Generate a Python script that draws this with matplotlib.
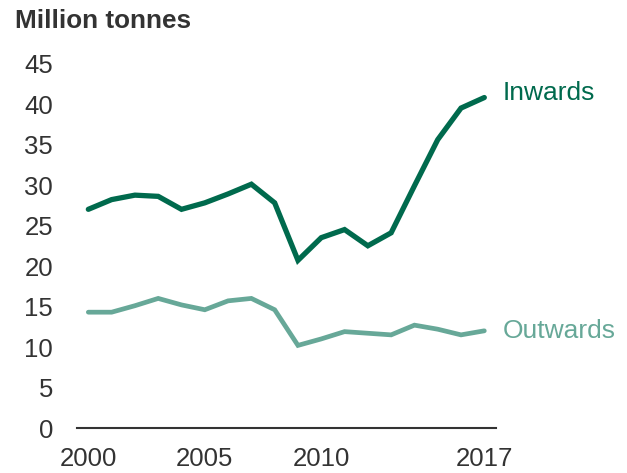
import matplotlib
matplotlib.use('Agg')
import matplotlib.pyplot as plt

years = list(range(2000, 2018))
inwards = [27.0, 28.2, 28.75, 28.6, 27.0, 27.8, 28.9, 30.1, 27.8, 20.7,
           23.5, 24.5, 22.5, 24.1, 29.9, 35.6, 39.5, 40.8]
outwards = [14.3, 14.3, 15.1, 16.0, 15.2, 14.6, 15.7, 16.0, 14.6, 10.2,
            11.0, 11.9, 11.7, 11.5, 12.7, 12.2, 11.5, 12.0]
xticks = [2000, 2005, 2010, 2017]
yticks = list(range(0, 50, 5))

plt.rcParams['font.family'] = ['Liberation Sans', 'DejaVu Sans']

dark = '#006a4d'
light = '#67a898'
grey = '#333333'

fig = plt.figure(figsize=(6.27, 4.73), dpi=100)
ax = fig.add_axes([0.1223, 0.0951, 0.6687, 0.7706])

ax.plot(years, inwards, color=dark, lw=3.8, solid_capstyle='round', solid_joinstyle='miter')
ax.plot(years, outwards, color=light, lw=3.4, solid_capstyle='round', solid_joinstyle='miter')

# end labels
ax.annotate('Inwards', (years[-1], inwards[-1]), xytext=(13.5, 3), textcoords='offset points',
            color=dark, fontsize=19, va='center', ha='left', annotation_clip=False)
ax.annotate('Outwards', (years[-1], outwards[-1]), xytext=(13.5, 0), textcoords='offset points',
            color=light, fontsize=19, va='center', ha='left', annotation_clip=False)

ax.set_xlim(1999.5, 2017.5)
ax.set_ylim(0, 45)
ax.set_xticks(xticks)
ax.set_yticks(yticks)
ax.tick_params(axis='both', length=0, labelsize=18.5, labelcolor=grey)
ax.tick_params(axis='y', pad=17)
ax.tick_params(axis='x', pad=14)

for s in ['top', 'right', 'left']:
    ax.spines[s].set_visible(False)
ax.spines['bottom'].set_color(grey)
ax.spines['bottom'].set_linewidth(1.5)

fig.text(15 / 627, 1 - 28 / 473, 'Million tonnes', fontsize=18.8, fontweight='bold',
         color=grey, ha='left', va='baseline')

fig.savefig('out.png', dpi=100)
